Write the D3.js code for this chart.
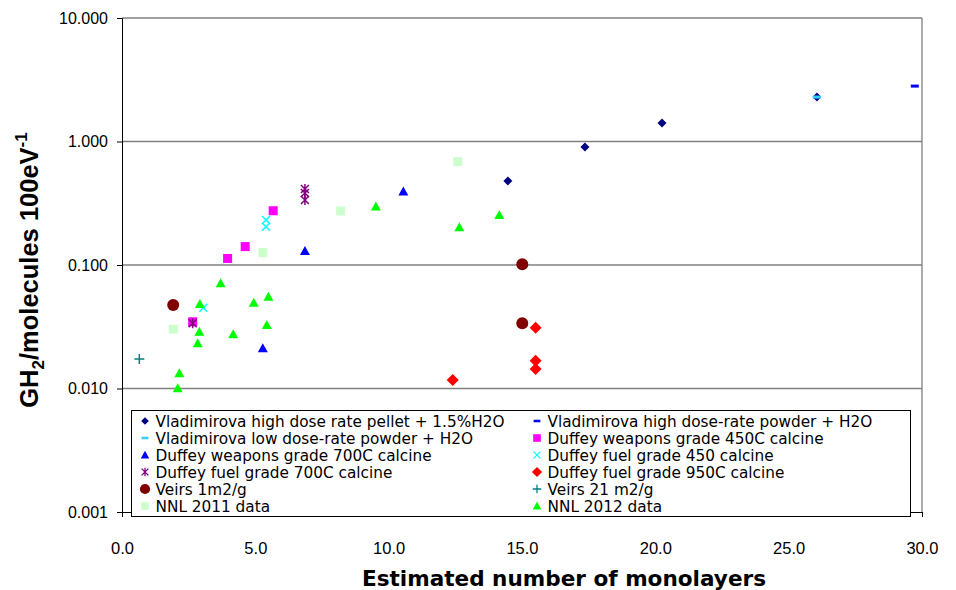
<!DOCTYPE html>
<html><head><meta charset="utf-8">
<script src="https://cdn.jsdelivr.net/npm/d3@7"></script>
<style>body{margin:0;background:#fff}svg{display:block}</style>
</head><body><svg id="c" width="956" height="590"></svg>
<script>
// ---- data ----
const vladPellet   = [[14.47,0.479],[17.36,0.902],[20.25,1.41],[26.06,2.29]];
const vladHighPow  = [[29.73,2.81]];
const vladLowPow   = [[26.06,2.29]];
const duffW450     = [[2.65,0.0347],[3.96,0.113],[4.62,0.141],[5.67,0.275]];
const duffW700     = [[6.86,0.130],[5.28,0.0212],[10.55,0.393]];
const duffF450     = [[5.40,0.231],[5.40,0.204],[3.05,0.0451]];
const duffF700     = [[6.86,0.412],[6.86,0.383],[6.86,0.336],[2.65,0.0337]];
const duffF950     = [[12.40,0.0117],[15.51,0.0311],[15.51,0.0168],[15.51,0.0144]];
const veirs1       = [[1.92,0.0474],[15.01,0.1013],[15.01,0.0337]];
const veirs21      = [[0.65,0.0173]];
const nnl2011      = [[1.92,0.0302],[5.28,0.126],[8.20,0.274],[12.59,0.687]];
const nnl2012      = [[2.09,0.01005],[2.15,0.0133],[2.84,0.0232],[2.90,0.0288],[2.92,0.0483],[3.70,0.0711],
                      [4.17,0.0275],[4.94,0.0495],[5.43,0.0327],[5.49,0.0554],[9.52,0.297],[12.65,0.202],[14.15,0.254]];
const seriesNames = ["Vladimirova high dose rate pellet + 1.5%H2O","Vladimirova high dose-rate powder + H2O",
  "Vladimirova low dose-rate powder + H2O","Duffey weapons grade 450C calcine","Duffey weapons grade 700C calcine",
  "Duffey fuel grade 450 calcine","Duffey fuel grade 700C calcine","Duffey fuel grade 950C calcine",
  "Veirs 1m2/g","Veirs 21 m2/g","NNL 2011 data","NNL 2012 data"];
const xTicks = [0,5,10,15,20,25,30];
const yTicks = [0.001,0.01,0.1,1,10];

const seriesData = [vladPellet,vladHighPow,vladLowPow,duffW450,duffW700,duffF450,duffF700,duffF950,veirs1,veirs21,nnl2011,nnl2012];
const styles = [
  {shape:"diamond",color:"#000080"},{shape:"dash",color:"#0000FF"},{shape:"dash",color:"#33CCFF"},
  {shape:"square",color:"#FF00FF"},{shape:"triangle",color:"#0000FF"},{shape:"x",color:"#00FFFF"},
  {shape:"star",color:"#800080"},{shape:"diamondL",color:"#FF0000"},{shape:"circle",color:"#800000"},
  {shape:"plus",color:"#008080"},{shape:"square",color:"#CCFFCC"},{shape:"triangle",color:"#00FF00"}];

const svg = d3.select("#c");
const x = d3.scaleLinear().domain([0,30]).range([122,922]);
const y = d3.scaleLog().domain([0.001,10]).range([512,18]);

// grid
svg.append("g").selectAll("line").data(yTicks.slice(1)).join("line")
  .attr("x1",x(0)).attr("x2",x(30)).attr("y1",d=>y(d)).attr("y2",d=>y(d))
  .attr("stroke","#808080").attr("stroke-width",1.3);
svg.append("line").attr("x1",x(30)).attr("x2",x(30)).attr("y1",y(10)).attr("y2",y(0.001))
  .attr("stroke","#808080").attr("stroke-width",1.3);

// axes
const fmt = d3.format(".3f");
const ya = svg.append("g").attr("transform",`translate(${x(0)},0)`)
  .call(d3.axisLeft(y).tickValues(yTicks).tickFormat(fmt).tickSize(5).tickPadding(9));
const xa = svg.append("g").attr("transform",`translate(0,${y(0.001)})`)
  .call(d3.axisBottom(x).tickValues(xTicks).tickFormat(d3.format(".1f")).tickSize(5).tickPadding(25));
[ya,xa].forEach(a=>{a.select(".domain").attr("stroke","#000");a.selectAll(".tick line").attr("stroke","#000");});
ya.selectAll("text").attr("font-family","Liberation Sans, Arial, sans-serif").attr("font-size",16).attr("fill","#000");
xa.selectAll("text").attr("font-family","Liberation Sans Narrow, Liberation Sans, Arial, sans-serif").attr("font-size",16.5).attr("fill","#000");

// marker generator
function marker(g, shape, color){
  const s = {
    diamond: ()=>g.append("path").attr("d","M0,-4.5L4.5,0L0,4.5L-4.5,0Z").attr("fill",color),
    diamondL: ()=>g.append("path").attr("d","M0,-6L6,0L0,6L-6,0Z").attr("fill",color),
    dash: ()=>g.append("rect").attr("x",-4).attr("y",-1.5).attr("width",8).attr("height",3).attr("fill",color),
    square: ()=>g.append("rect").attr("x",-4.5).attr("y",-4.5).attr("width",9).attr("height",9).attr("fill",color),
    triangle: ()=>g.append("path").attr("d","M0,-5L5,4L-5,4Z").attr("fill",color),
    circle: ()=>g.append("circle").attr("r",6).attr("fill",color),
    x: ()=>g.append("path").attr("d","M-4,-4L4,4M4,-4L-4,4").attr("stroke",color).attr("stroke-width",1.5).attr("fill","none"),
    star: ()=>g.append("path").attr("d","M-4,-4L4,4M4,-4L-4,4M0,-5L0,5").attr("stroke",color).attr("stroke-width",1.5).attr("fill","none"),
    plus: ()=>g.append("path").attr("d","M-5,0L5,0M0,-5L0,5").attr("stroke",color).attr("stroke-width",1.5).attr("fill","none")
  };
  s[shape]();
}

// points
seriesData.forEach((data,i)=>{
  const g = svg.append("g");
  data.forEach(d=>{
    const m = g.append("g").attr("transform",`translate(${x(d[0])},${y(d[1])})`);
    marker(m, styles[i].shape, styles[i].color);
  });
});

// legend
const lg = svg.append("g");
lg.append("rect").attr("x",131.5).attr("y",410.5).attr("width",779).attr("height",106)
  .attr("fill","#fff").attr("stroke","#000").attr("stroke-width",1);
seriesNames.forEach((name,i)=>{
  const col = i%2, row = Math.floor(i/2);
  const mx = col===0?145:537, ty = 421+row*17;
  const m = lg.append("g").attr("transform",`translate(${mx},${ty}) scale(0.85)`);
  marker(m, styles[i].shape, styles[i].color);
  lg.append("text").attr("x",mx+10.5).attr("y",ty).attr("dy","0.36em")
    .attr("font-family","DejaVu Sans, Verdana, sans-serif").attr("font-size",15.3).attr("fill","#000").text(name);
});

// titles
svg.append("text").attr("x",564).attr("y",586).attr("text-anchor","middle")
  .attr("font-family","DejaVu Sans, Verdana, sans-serif").attr("font-weight","bold").attr("font-size",21)
  .attr("textLength",404).attr("lengthAdjust","spacingAndGlyphs").text("Estimated number of monolayers");
const yt = svg.append("text").attr("transform","translate(38,270) rotate(-90)").attr("text-anchor","middle")
  .attr("font-family","Liberation Sans, Arial, sans-serif").attr("font-weight","bold").attr("font-size",25.5);
yt.append("tspan").text("GH");
yt.append("tspan").attr("font-size",17).attr("dy",6).text("2");
yt.append("tspan").attr("dy",-6).text("/molecules 100eV");
yt.append("tspan").attr("font-size",17).attr("dy",-11).text("-1");
</script></body></html>
